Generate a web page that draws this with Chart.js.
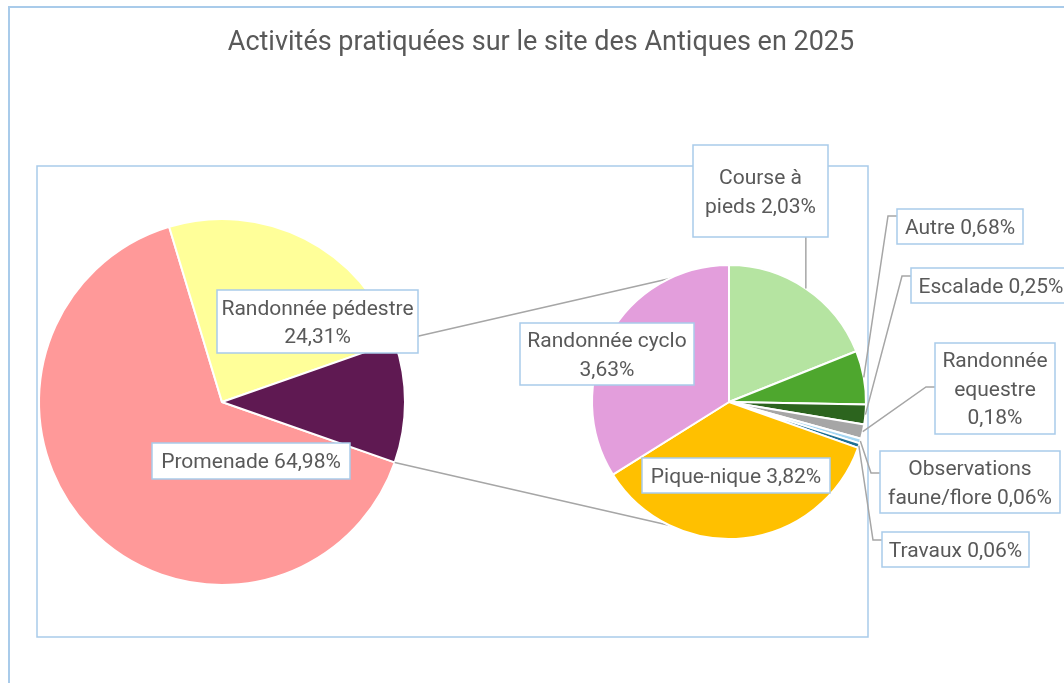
<!DOCTYPE html>
<html lang="fr">
<head>
<meta charset="utf-8">
<title>Activités pratiquées sur le site des Antiques en 2025</title>
<script src="https://cdn.jsdelivr.net/npm/chart.js@4.4.1/dist/chart.umd.min.js"></script>
<style>
  html, body { margin: 0; padding: 0; background: #fff; }
  #wrap { position: relative; width: 1064px; height: 683px; overflow: hidden; }
  #wrap canvas { position: absolute; left: 0; top: 0; }
</style>
</head>
<body>
<div id="wrap">
  <canvas id="camembert" width="1064" height="683"></canvas>
  <canvas id="detail" width="1064" height="683"></canvas>
</div>
<script>
const titre = 'Activités pratiquées sur le site des Antiques en 2025';

// Secteur principal : la dernière part regroupe les activités du second camembert
const activites = ['Promenade', 'Randonnée pédestre', 'Autres activités'];
const pourcentages = [64.98, 24.31, 10.71];

// Détail des autres activités
const detailActivites = ['Course à pieds', 'Autre', 'Escalade', 'Randonnée equestre',
  'Observations faune/flore', 'Travaux', 'Pique-nique', 'Randonnée cyclo'];
const detailPourcentages = [2.03, 0.68, 0.25, 0.18, 0.06, 0.06, 3.82, 3.63];

const couleurs = ['#FF9999', '#FFFF99', '#5F1952'];
const couleursDetail = ['#B5E4A1', '#4EA72E', '#2C641E', '#A6A6A6', '#A5D6F2', '#1E6F94', '#FFC000', '#E39EDC'];

const bleuCadre = '#A9CBEA';
const gris = '#A6A6A6';
const couleurTexte = '#595959';
const police = 'Roboto, sans-serif';

// cadre de la zone de tracé
const cadre = { gauche: 37, haut: 166, droite: 868, bas: 637 };

// étiquettes : décalage du centre de la boîte par rapport au centre du camembert,
// taille de la boîte, coupures de ligne (nb de mots) et type de repère
const etiquettesPrincipales = [
  { dx: 29, dy: 59, w: 198, h: 36, coupes: [] },
  { dx: 95.5, dy: -80.5, w: 201, h: 63, coupes: [2] },
  null
];
const etiquettesDetail = [
  { dx: 31.5, dy: -211, w: 135, h: 92, coupes: [2], repere: 'bas' },
  { dx: 231, dy: -175.5, w: 126, h: 35, coupes: [], repere: 'gauche', ay: 7 },
  { dx: 262, dy: -116.5, w: 160, h: 35, coupes: [], repere: 'gauche', ay: 8 },
  { dx: 266, dy: -13.5, w: 120, h: 91, coupes: [1, 2], repere: 'gauche', ay: 44 },
  { dx: 241, dy: 80, w: 180, h: 62, coupes: [1], repere: 'gauche', ay: 22 },
  { dx: 226.5, dy: 147.5, w: 147, h: 35, coupes: [], repere: 'gauche', ay: 8 },
  { dx: 7, dy: 73.5, w: 188, h: 35, coupes: [] },
  { dx: -122, dy: -48, w: 174, h: 62, coupes: [2] }
];

function pourcent(v) {
  return v.toFixed(2).replace('.', ',') + '%';
}

function lignesDe(texte, coupes) {
  const mots = texte.split(' ');
  const lignes = [];
  let debut = 0;
  coupes.forEach(c => { lignes.push(mots.slice(debut, c).join(' ')); debut = c; });
  lignes.push(mots.slice(debut).join(' '));
  return lignes;
}

function arcInfo(chart, i) {
  return chart.getDatasetMeta(0).data[i].getProps(['x', 'y', 'startAngle', 'endAngle', 'outerRadius'], true);
}

function boite(ctx, cx, cy, w, h, lignes) {
  const x = cx - w / 2, y = cy - h / 2;
  ctx.fillStyle = '#fff';
  ctx.fillRect(x, y, w, h);
  ctx.strokeStyle = bleuCadre;
  ctx.lineWidth = 1.5;
  ctx.strokeRect(x, y, w, h);
  ctx.fillStyle = couleurTexte;
  ctx.font = '21px ' + police;
  ctx.textAlign = 'center';
  ctx.textBaseline = 'middle';
  const lh = 28.5;
  lignes.forEach((l, k) => ctx.fillText(l, cx, cy + 2 + (k - (lignes.length - 1) / 2) * lh));
}

const fondPlugin = {
  id: 'fond',
  beforeDraw(chart) {
    const ctx = chart.ctx;
    ctx.save();
    ctx.fillStyle = '#fff';
    ctx.fillRect(0, 0, chart.width, chart.height);
    ctx.strokeStyle = bleuCadre;
    ctx.lineWidth = 2;
    ctx.beginPath();
    ctx.moveTo(9, chart.height);
    ctx.lineTo(9, 7);
    ctx.lineTo(chart.width, 7);
    ctx.stroke();
    ctx.lineWidth = 1.5;
    ctx.strokeRect(cadre.gauche, cadre.haut, cadre.droite - cadre.gauche, cadre.bas - cadre.haut);
    ctx.restore();
  }
};

// rotation pour centrer la part regroupée à droite (3 heures)
const total = pourcentages.reduce((a, b) => a + b, 0);
const avant = pourcentages.slice(0, 2).reduce((a, b) => a + b, 0) + pourcentages[2] / 2;
const rotationPrincipale = 90 - avant / total * 360;

const camembert = new Chart(document.getElementById('camembert'), {
  type: 'pie',
  data: {
    labels: activites,
    datasets: [{
      data: pourcentages,
      backgroundColor: couleurs,
      borderColor: '#fff',
      borderWidth: 2
    }]
  },
  options: {
    responsive: false,
    animation: false,
    rotation: rotationPrincipale,
    radius: 183,
    layout: { padding: { left: 0, right: 620, top: 121, bottom: 0 } },
    plugins: { legend: { display: false }, tooltip: { enabled: false }, title: { display: false } }
  },
  plugins: [fondPlugin]
});

const surcouche = {
  id: 'surcouche',
  beforeDatasetsDraw(chart) {
    // lignes reliant la part regroupée au second camembert
    const ctx = chart.ctx;
    const a = arcInfo(camembert, 2);
    const d = arcInfo(chart, 0);
    ctx.save();
    ctx.strokeStyle = gris;
    ctx.lineWidth = 1.5;
    ctx.beginPath();
    ctx.moveTo(a.x + a.outerRadius * Math.cos(a.startAngle), a.y + a.outerRadius * Math.sin(a.startAngle));
    ctx.lineTo(d.x, d.y - d.outerRadius);
    ctx.moveTo(a.x + a.outerRadius * Math.cos(a.endAngle), a.y + a.outerRadius * Math.sin(a.endAngle));
    ctx.lineTo(d.x, d.y + d.outerRadius);
    ctx.stroke();
    ctx.restore();
  },
  afterDraw(chart) {
    const ctx = chart.ctx;
    ctx.save();

    // repères des étiquettes du détail
    ctx.strokeStyle = gris;
    ctx.lineWidth = 1.5;
    etiquettesDetail.forEach((e, i) => {
      if (!e.repere) return;
      const p = arcInfo(chart, i);
      const m = (p.startAngle + p.endAngle) / 2;
      const mx = p.x + p.outerRadius * Math.cos(m);
      const my = p.y + p.outerRadius * Math.sin(m);
      ctx.beginPath();
      ctx.moveTo(mx, my);
      if (e.repere === 'bas') {
        ctx.lineTo(mx, p.y + e.dy + e.h / 2);
      } else {
        const bx = p.x + e.dx - e.w / 2;
        const by = p.y + e.dy - e.h / 2 + e.ay;
        ctx.lineTo(bx - 9, by);
        ctx.lineTo(bx, by);
      }
      ctx.stroke();
    });

    // étiquettes du camembert principal
    etiquettesPrincipales.forEach((e, i) => {
      if (!e) return;
      const p = arcInfo(camembert, i);
      boite(ctx, p.x + e.dx, p.y + e.dy, e.w, e.h,
        lignesDe(activites[i] + ' ' + pourcent(pourcentages[i]), e.coupes));
    });

    // étiquettes du détail
    etiquettesDetail.forEach((e, i) => {
      const p = arcInfo(chart, i);
      boite(ctx, p.x + e.dx, p.y + e.dy, e.w, e.h,
        lignesDe(detailActivites[i] + ' ' + pourcent(detailPourcentages[i]), e.coupes));
    });

    // titre
    ctx.fillStyle = couleurTexte;
    ctx.font = '27px ' + police;
    ctx.textAlign = 'center';
    ctx.textBaseline = 'middle';
    ctx.fillText(titre, 541, 43);
    ctx.restore();
  }
};

const detail = new Chart(document.getElementById('detail'), {
  type: 'pie',
  data: {
    labels: detailActivites,
    datasets: [{
      data: detailPourcentages,
      backgroundColor: couleursDetail,
      borderColor: '#fff',
      borderWidth: 2
    }]
  },
  options: {
    responsive: false,
    animation: false,
    rotation: 0,
    radius: 137,
    layout: { padding: { left: 394, right: 0, top: 121, bottom: 0 } },
    plugins: { legend: { display: false }, tooltip: { enabled: false }, title: { display: false } }
  },
  plugins: [surcouche]
});
</script>
</body>
</html>
